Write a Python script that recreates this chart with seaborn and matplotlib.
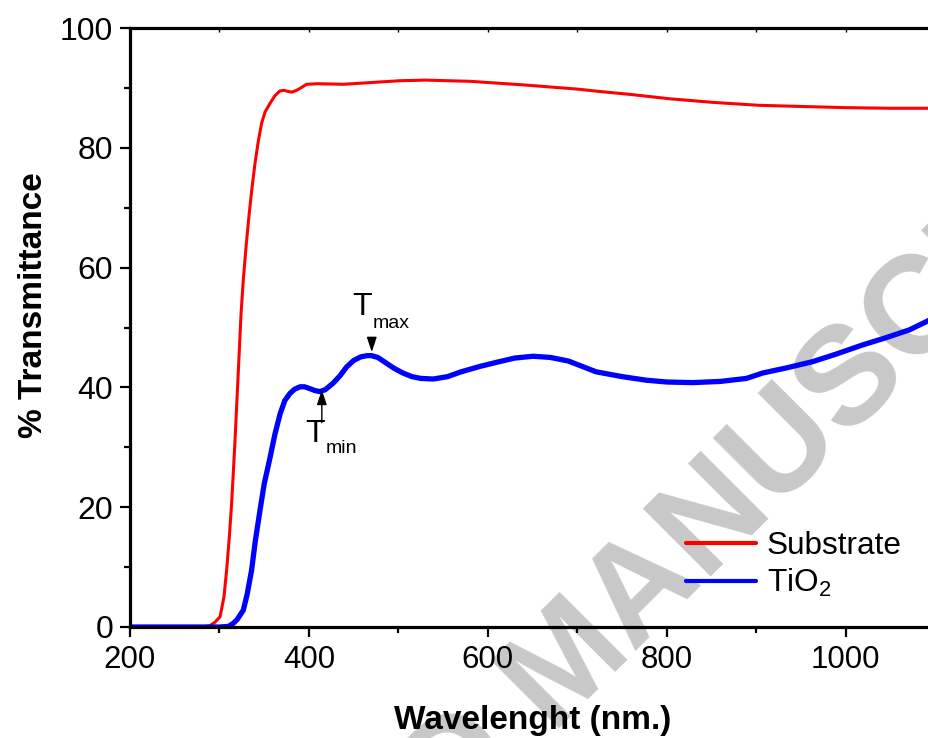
import matplotlib
matplotlib.use("Agg")
import matplotlib.pyplot as plt
import seaborn as sns
import pandas as pd

# ---- data ----
wl_sub = [200, 280, 289, 295, 300.6, 305, 308, 311, 313.6, 317, 321, 324, 326.6, 330, 333.3,
          336.5, 339.7, 343.5, 347.1, 351, 356.4, 362, 367.6, 372, 376.9, 381, 386.3, 392,
          397.4, 410, 438, 470, 502, 530, 580, 640, 700, 725, 760, 802, 850, 902, 950, 1002,
          1050, 1093]
t_sub = [0, 0, 0.2, 0.8, 1.7, 5.0, 9.5, 15.0, 20.7, 30.0, 42.5, 52.0, 57.9, 64.0, 69.1,
         73.5, 77.4, 81.2, 84.1, 86.0, 87.4, 88.7, 89.5, 89.6, 89.4, 89.3, 89.6, 90.1,
         90.6, 90.7, 90.6, 90.9, 91.2, 91.3, 91.1, 90.5, 89.8, 89.4, 88.9, 88.2, 87.6,
         87.1, 86.9, 86.7, 86.6, 86.6]

wl_tio2 = [200, 300, 310, 315.4, 320, 326.6, 331, 335.9, 340, 345.3, 350, 356.4, 362, 367.6,
           373, 378.8, 384, 390, 395, 401, 406, 412, 418, 427, 435, 442, 450, 458, 465, 470,
           477, 485, 495, 505, 515, 525, 539, 555, 570, 591, 610, 630, 650.5, 670, 690, 721,
           750, 777, 800, 829, 860, 889, 907, 935, 963, 990, 1019, 1045, 1071, 1093]
t_tio2 = [0, 0, 0.1, 0.6, 1.3, 2.8, 5.5, 9.5, 14.3, 19.5, 23.9, 28.2, 32.2, 35.5,
          37.8, 39.0, 39.7, 40.1, 40.1, 39.8, 39.5, 39.3, 39.6, 40.7, 42.0, 43.4, 44.5, 45.1,
          45.3, 45.3, 45.0, 44.2, 43.2, 42.4, 41.8, 41.5, 41.4, 41.8, 42.6, 43.5, 44.2, 44.9,
          45.2, 45.0, 44.4, 42.6, 41.8, 41.2, 40.9, 40.8, 41.0, 41.5, 42.4, 43.3, 44.3, 45.6,
          47.1, 48.3, 49.6, 51.2]

series_labels = ["Substrate", "TiO$_2$"]
x_ticks = [200, 400, 600, 800, 1000]
y_ticks = [0, 20, 40, 60, 80, 100]

df = pd.concat([
    pd.DataFrame({"wl": wl_sub, "T": t_sub, "s": series_labels[0]}),
    pd.DataFrame({"wl": wl_tio2, "T": t_tio2, "s": series_labels[1]}),
])

sns.set_style("ticks")
plt.rcParams["font.family"] = ["Liberation Sans", "DejaVu Sans"]
plt.rcParams["mathtext.fontset"] = "custom"
plt.rcParams["mathtext.rm"] = "Liberation Sans"
plt.rcParams["mathtext.it"] = "Liberation Sans"
for k in ["text.color", "axes.labelcolor", "xtick.color", "ytick.color",
          "axes.edgecolor"]:
    plt.rcParams[k] = "black"

fig = plt.figure(figsize=(9.29, 7.38), dpi=100)
ax = fig.add_axes([130 / 929, 111 / 738, 1 - 130 / 929, 599 / 738])
ax.set_facecolor("none")
ax.set_zorder(2)

# watermark (behind everything)
wm_kw = dict(rotation=45, rotation_mode="anchor", fontsize=100, fontweight="bold",
             color="#c8c8c8", va="baseline", zorder=0)
fig.text(0.592, 0.013, "MANUSCRIPT", ha="left", **wm_kw)
fig.text(0.562, -0.025, "ACCEPTED", ha="right", **wm_kw)

sub = df[df.s == series_labels[0]]
tio = df[df.s == series_labels[1]]
sns.lineplot(data=sub, x="wl", y="T", ax=ax, color="#ff0000", lw=2.2, sort=False,
             estimator=None, label=series_labels[0])
sns.lineplot(data=tio, x="wl", y="T", ax=ax, color="#0000ff", lw=3.8, sort=False,
             estimator=None, label=series_labels[1])

ax.set_xlim(200, 1093)
ax.set_ylim(0, 100)
ax.set_xticks(x_ticks)
ax.set_yticks(y_ticks)
ax.set_xticks([300, 500, 700, 900], minor=True)
ax.set_yticks([10, 30, 50, 70, 90], minor=True)
ax.tick_params(axis="both", which="major", direction="out", length=7.2, width=1.6)
ax.tick_params(axis="both", which="minor", direction="out", length=4.3, width=1.6)
ax.tick_params(axis="x", labelsize=22.5, pad=6)
ax.tick_params(axis="y", labelsize=23, pad=5)
for side in ["left", "bottom", "top"]:
    ax.spines[side].set_linewidth(2.3)
ax.spines["right"].set_visible(False)

# top inward small ticks
axt = ax.secondary_xaxis("top")
axt.set_xticks([300, 400, 500, 600, 700, 800, 900, 1000])
axt.tick_params(direction="in", length=3, width=1, labeltop=False)
axt.set_xticklabels([])

ax.set_xlabel("Wavelenght (nm.)", fontsize=24, fontweight="bold")
ax.set_ylabel("% Transmittance", fontsize=24, fontweight="bold")
ax.xaxis.set_label_coords(0.504, -0.131)
ax.yaxis.set_label_coords(-0.102, 0.537)

leg = ax.legend(loc="upper left", bbox_to_anchor=(0.68, 0.182), frameon=False,
                fontsize=22.7, handlelength=2.22, handletextpad=0.35, labelspacing=0.2,
                borderaxespad=0)
for h in leg.get_lines():
    h.set_linewidth(3)

# annotations
arrow_kw = dict(arrowstyle="-|>,head_length=0.45,head_width=0.15", color="black", lw=1,
                mutation_scale=20, shrinkA=0, shrinkB=0)
ax.annotate("", xy=(470.2, 45.9), xytext=(470.2, 48.3), arrowprops=arrow_kw)
ax.text(447.9, 52.1, "T", fontsize=23, ha="left", va="baseline")
ax.text(471.4, 49.9, "max", fontsize=14, ha="left", va="baseline")
ax.annotate("", xy=(414.4, 39.6), xytext=(414.4, 34.1), arrowprops=arrow_kw)
ax.text(395.4, 30.9, "T", fontsize=23, ha="left", va="baseline")
ax.text(418.9, 29.0, "min", fontsize=14, ha="left", va="baseline")

fig.savefig("out.png", dpi=100)
